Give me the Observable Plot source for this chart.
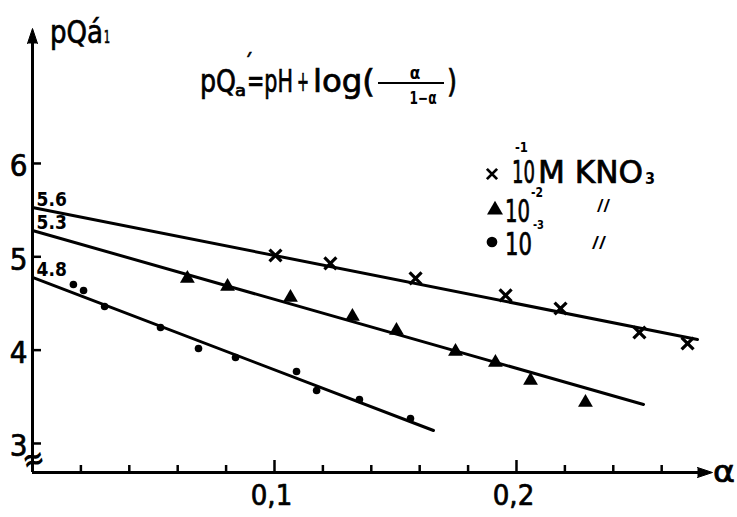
<!DOCTYPE html>
<html><head><meta charset="utf-8">
<script src="https://cdn.jsdelivr.net/npm/d3@7"></script>
<script src="https://cdn.jsdelivr.net/npm/@observablehq/plot@0.6"></script>
<style>body{margin:0;background:#fff} svg{display:block;background:#fff}</style>
</head><body><div id="chart"></div>
<script>
const FONT = '"DejaVu Sans Condensed","DejaVu Sans",sans-serif';

// series names
const seriesNames = ["1e-1 M KNO3", "1e-2 M KNO3", "1e-3 M KNO3"];

// 10^-1 M KNO3 (crosses)
const alpha1 = [0.1004, 0.1231, 0.1583, 0.1955, 0.2182, 0.2508, 0.2707];
const pq1    = [5.014, 4.929, 4.768, 4.586, 4.446, 4.189, 4.071];
// 10^-2 M (triangles)
const alpha2 = [0.0640, 0.0806, 0.1066, 0.1322, 0.1504, 0.1748, 0.1913, 0.2058, 0.2285];
const pq2    = [4.768, 4.682, 4.564, 4.361, 4.211, 3.986, 3.868, 3.675, 3.439];
// 10^-3 M (dots)
const alpha3 = [0.0169, 0.0211, 0.0298, 0.0529, 0.0686, 0.0839, 0.1091, 0.1174, 0.1351, 0.1562];
const pq3    = [4.704, 4.639, 4.468, 4.243, 4.018, 3.921, 3.771, 3.568, 3.471, 3.268];

// fitted straight lines: intercept at alpha = 0 and end point
const lineStartY = [5.529, 5.282, 4.779];
const lineEndX   = [0.2748, 0.2525, 0.1657];
const lineEndY   = [4.114, 3.418, 3.139];
const interceptLabels = ["5.6", "5.3", "4.8"];

// axes
const xMax = 0.281, yMin = 2.689, yMax = 7.446;
const yTicks = [3, 4, 5, 6];
const yTickLabels = ["3", "4", "5", "6"];
const xMinorTicks = [0.02, 0.04, 0.06, 0.08, 0.12, 0.14, 0.16, 0.18, 0.22, 0.24, 0.26];
const xMajorTicks = [0.1, 0.2];
const xTickLabels = ["0,1", "0,2"];

const W = 737, H = 517, mL = 32, mR = 25, mT = 28, mB = 45;
const pxPerY = (H - mT - mB) / (yMax - yMin);
const pxPerX = (W - mL - mR) / xMax;

const pts = (xs, ys, s) => xs.map((x, i) => ({x, y: ys[i], s}));
const lines = seriesNames.flatMap((s, i) => [
  {x: 0, y: lineStartY[i], s}, {x: lineEndX[i], y: lineEndY[i], s}
]);
const starts = seriesNames.map((s, i) => ({x: 0, y: lineStartY[i], label: interceptLabels[i]}));
const heavy = {stroke: "black", strokeWidth: 0.7, fill: "black"};

const plot = Plot.plot({
  width: W, height: H,
  marginLeft: mL, marginRight: mR, marginTop: mT, marginBottom: mB,
  style: {fontFamily: FONT, background: "#fff", color: "black"},
  x: {domain: [0, xMax], axis: null},
  y: {domain: [yMin, yMax], axis: null},
  marks: [
    // axes lines
    Plot.ruleX([0], {y1: yMin, y2: yMax - 8 / pxPerY, strokeWidth: 3}),
    Plot.ruleY([yMin], {x1: 0, x2: xMax - 8 / pxPerX, strokeWidth: 3}),
    Plot.vector([{x: 0, y: yMax}], {x: "x", y: "y", shape: "spike", length: 15, r: 5, anchor: "end", rotate: 0, fill: "black", stroke: "black", strokeWidth: 1}),
    Plot.vector([{x: xMax, y: yMin}], {x: "x", y: "y", shape: "spike", length: 15, r: 5, anchor: "end", rotate: 90, fill: "black", stroke: "black", strokeWidth: 1}),
    // ticks
    Plot.ruleX(xMinorTicks, {x: d => d, y1: yMin, y2: yMin + 7 / pxPerY, strokeWidth: 2.5}),
    Plot.ruleX(xMajorTicks, {x: d => d, y1: yMin, y2: yMin + 12 / pxPerY, strokeWidth: 2.5}),
    Plot.ruleY(yTicks, {y: d => d, x1: 0, x2: 9 / pxPerX, strokeWidth: 2.5}),
    // tick labels
    Plot.text(xMajorTicks, {x: d => d, y: yMin, text: (d, i) => xTickLabels[i], dy: 23, dx: -3, fontSize: 29, textAnchor: "middle", lineAnchor: "middle", ...heavy}),
    Plot.text(yTicks, {x: 0, y: d => d, text: (d, i) => yTickLabels[i], dx: -14, dy: 3, fontSize: 31, textAnchor: "middle", lineAnchor: "middle", ...heavy}),
    // axis break
    Plot.text([yMin], {x: 0, y: d => d, text: () => "≈", dy: -13, dx: 1, fontSize: 30, fontWeight: "bold", rotate: -15}),
    // fitted lines
    Plot.line(lines, {x: "x", y: "y", z: "s", stroke: "black", strokeWidth: 3}),
    // intercept labels
    Plot.text(starts, {x: "x", y: "y", text: "label", dx: 4, dy: -1, textAnchor: "start", lineAnchor: "bottom", fontSize: 19, fontWeight: "bold"}),
    // data points
    Plot.dot(pts(alpha1, pq1, seriesNames[0]), {x: "x", y: "y", symbol: "times", r: 5.5, stroke: "black", strokeWidth: 3.2}),
    Plot.dot(pts(alpha2, pq2, seriesNames[1]), {x: "x", y: "y", symbol: "triangle", r: 5.5, fill: "black", stroke: "none"}),
    Plot.dot(pts(alpha3, pq3, seriesNames[2]), {x: "x", y: "y", symbol: "circle", r: 3.8, fill: "black", stroke: "none"})
  ]
});

const svg = d3.select(plot);
function t(str, x, y, size, w, opts = {}) {
  const el = svg.append("text").attr("x", x).attr("y", y)
    .attr("font-size", size).attr("font-family", FONT).attr("fill", "black")
    .attr("stroke", "black").attr("stroke-width", opts.sw ?? 0.7)
    .attr("text-anchor", opts.anchor || "start").text(str);
  if (w) el.attr("textLength", w).attr("lengthAdjust", "spacingAndGlyphs");
  if (opts.weight) el.attr("font-weight", opts.weight);
  return el;
}

// y axis title pQ'a1
t("pQá", 50, 43, 32, 53);
t("1", 104, 43, 17, 6);
// x axis symbol
t("α", 713, 482, 30, 22);

// formula pQ'a = pH + log(α/(1-α))
t("pQ", 200, 92, 32, 36);
t("´", 244, 74, 26, 9);
t("a", 235, 96, 16, 11);
t("=pH", 247, 92, 32, 46);
t("+", 297, 91, 28, 12);
t("log(", 313, 92, 32, 62);
svg.append("line").attr("x1", 378).attr("x2", 444).attr("y1", 83).attr("y2", 83)
  .attr("stroke", "black").attr("stroke-width", 2);
t("α", 415, 79, 17, null, {anchor: "middle", weight: "bold", sw: 0});
t("1−α", 423, 104, 17, 27, {anchor: "middle", weight: "bold", sw: 0});
t(")", 447, 92, 32, 10);

// legend
const sym = (type, size, cx, cy, filled) => svg.append("path")
  .attr("d", d3.symbol(type, size)()).attr("transform", `translate(${cx},${cy})`)
  .attr("fill", filled ? "black" : "none").attr("stroke", "black").attr("stroke-width", filled ? 0 : 2.8);
sym(d3.symbolTimes, 70, 492, 174, false);
t("10", 512, 183, 32, 23);
t("-1", 515, 152, 14, 13, {weight: "bold", sw: 0});
t("M KNO", 538, 183, 32, 105);
t("3", 645, 184, 16, 10, {weight: "bold", sw: 0});

sym(d3.symbolTriangle, 110, 495, 210, true);
t("10", 505, 222, 32, 25);
t("-2", 531, 197, 14, 12, {weight: "bold", sw: 0});
t("//", 597, 211, 15, 13, {weight: "bold", sw: 0});

sym(d3.symbolCircle, 90, 492, 242, true);
t("10", 505, 255, 32, 27);
t("-3", 533, 229, 13, 11, {weight: "bold", sw: 0});
t("//", 592, 248, 15, 14, {weight: "bold", sw: 0});

document.getElementById("chart").appendChild(plot);
</script>
</body></html>
